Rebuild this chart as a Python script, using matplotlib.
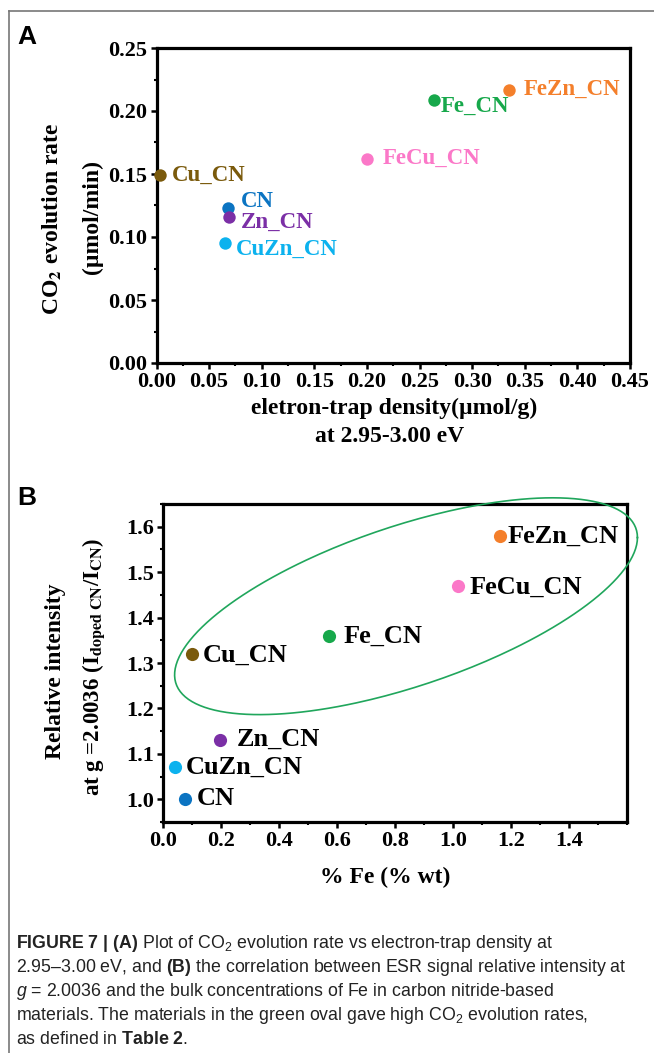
import numpy as np
import matplotlib
matplotlib.use('Agg')
import matplotlib.pyplot as plt
from matplotlib.lines import Line2D
from matplotlib.ticker import MultipleLocator
from matplotlib import font_manager

SAMPLES = ['CN', 'Cu_CN', 'Zn_CN', 'CuZn_CN', 'Fe_CN', 'FeCu_CN', 'FeZn_CN']
COLORS = ['#0b74c2', '#7a5a0c', '#7b2fa6', '#0cb2ee', '#17a84b', '#fb78c8', '#f47f2b']

# panel A: CO2 evolution rate vs electron-trap density
trap_density = [0.068, 0.003, 0.069, 0.065, 0.264, 0.200, 0.335]
co2_rate = [0.123, 0.149, 0.116, 0.095, 0.209, 0.162, 0.217]

# panel B: relative ESR intensity vs Fe content
fe_wt = [0.076, 0.100, 0.197, 0.043, 0.572, 1.017, 1.162]
rel_intensity = [1.00, 1.32, 1.13, 1.07, 1.36, 1.47, 1.58]

# label offsets in pixels (dx, dy)
OFFS_A = {'CN': (13, 7), 'Cu_CN': (12, 0), 'Zn_CN': (12, -6), 'CuZn_CN': (11, -6),
          'Fe_CN': (6, -7), 'FeCu_CN': (16, 1), 'FeZn_CN': (15, 0)}
OFFS_B = {'CN': (12, 1), 'Cu_CN': (11, -1), 'Zn_CN': (17, 1), 'CuZn_CN': (10, 0),
          'Fe_CN': (15, -1), 'FeCu_CN': (12, -2), 'FeZn_CN': (8, 0)}

names = {f.name for f in font_manager.fontManager.ttflist}
CAP_FONT = 'Liberation Sans Narrow' if 'Liberation Sans Narrow' in names else 'Liberation Sans'

plt.rcParams['font.family'] = ['Liberation Serif', 'DejaVu Serif']
plt.rcParams['mathtext.fontset'] = 'custom'
plt.rcParams['mathtext.rm'] = CAP_FONT + ':weight=normal'
plt.rcParams['mathtext.bf'] = CAP_FONT + ':weight=bold'
plt.rcParams['mathtext.it'] = CAP_FONT + ':style=italic:weight=normal'

W, H = 654, 1053
fig = plt.figure(figsize=(W / 100, H / 100), dpi=100)


def fx(px):
    return px / W


def fy(py):
    return 1 - py / H


def style_axes(ax):
    for s in ax.spines.values():
        s.set_linewidth(2.3)
    ax.tick_params(which='major', direction='out', length=4, width=1.8, labelsize=16, pad=2.5,
                   top=False, right=False)
    ax.tick_params(which='minor', direction='out', length=2.5, width=1.5, top=False, right=False)
    for lab in ax.get_xticklabels() + ax.get_yticklabels():
        lab.set_fontweight('bold')


# ---- panel A
axA = fig.add_axes([fx(156.5), fy(363), fx(630) - fx(156.5), fy(48) - fy(363)])
axA.set_xlim(0, 0.45)
axA.set_ylim(0, 0.25)
axA.xaxis.set_major_locator(MultipleLocator(0.05))
axA.xaxis.set_minor_locator(MultipleLocator(0.025))
axA.yaxis.set_major_locator(MultipleLocator(0.05))
axA.yaxis.set_minor_locator(MultipleLocator(0.025))
axA.xaxis.set_major_formatter(lambda v, p: '%.2f' % v)
axA.yaxis.set_major_formatter(lambda v, p: '%.2f' % v)
style_axes(axA)
for name, x, y, c in zip(SAMPLES, trap_density, co2_rate, COLORS):
    axA.scatter(x, y, s=80, color=c, zorder=3, clip_on=False, linewidths=0)
    axA.annotate(name, (x, y), xytext=OFFS_A[name], textcoords='offset pixels',
                 ha='left', va='center', color=c, fontsize=16.5, fontweight='bold')

# ---- panel B
axB = fig.add_axes([fx(163), fy(822), fx(627) - fx(163), fy(504) - fy(822)])
axB.set_xlim(0, 1.6)
axB.set_ylim(0.95, 1.65)
axB.set_xticks(np.arange(0, 1.41, 0.2))
axB.xaxis.set_minor_locator(MultipleLocator(0.1))
axB.yaxis.set_major_locator(MultipleLocator(0.1))
axB.yaxis.set_minor_locator(MultipleLocator(0.05))
axB.xaxis.set_major_formatter(lambda v, p: '%.1f' % v)
axB.yaxis.set_major_formatter(lambda v, p: '%.1f' % v)
style_axes(axB)
for name, x, y, c in zip(SAMPLES, fe_wt, rel_intensity, COLORS):
    axB.scatter(x, y, s=90, color=c, zorder=3, clip_on=False, linewidths=0)
    axB.annotate(name, (x, y), xytext=OFFS_B[name], textcoords='offset pixels',
                 ha='left', va='center', color='black', fontsize=19, fontweight='bold')

# green oval around the high-rate materials
t = np.linspace(0, 2 * np.pi, 300)
phi = np.radians(39.3)
axB.plot(0.838 + 0.798 * np.cos(t), 1.425 + 0.2386 * np.sin(t + phi),
         color='#20a65c', lw=1.2, clip_on=False, zorder=4)

# ---- axis labels
lab = dict(fontsize=17, fontweight='bold', ha='center', va='center', math_fontfamily='stix')
fig.text(fx(52), fy(219), r'CO$_\mathbf{2}$ evolution rate', rotation=90, **lab)
fig.text(fx(92), fy(217), '(µmol/min)', rotation=90, **lab)
fig.text(fx(394), fy(408), 'eletron-trap density(µmol/g)', **lab)
fig.text(fx(390), fy(437), 'at 2.95-3.00 eV', **lab)
fig.text(fx(56), fy(671), 'Relative intensity', rotation=90, **lab)
fig.text(fx(94), fy(667), r'at g =2.0036 (I$_\mathbf{doped\ CN}$/I$_\mathbf{CN}$)', rotation=90,
         **{**lab, 'fontsize': 16.5})
fig.text(fx(385), fy(877), '% Fe (% wt)', **lab)

# ---- panel letters
fig.text(fx(17), fy(37), 'A', family='Liberation Sans', fontsize=19, fontweight='bold', va='center')
fig.text(fx(17), fy(498), 'B', family='Liberation Sans', fontsize=19, fontweight='bold', va='center')

# ---- frame
fig.add_artist(Line2D([fx(9), fx(9)], [fy(11), 0], color='#777777', lw=1.2))
fig.add_artist(Line2D([fx(9), 1], [fy(11), fy(11)], color='#777777', lw=1.2))

# ---- caption
caption = [
    r'$\mathbf{FIGURE\ 7\ |\ (A)}$ Plot of CO$_2$ evolution rate vs electron-trap density at',
    r'2.95–3.00 eV, and $\mathbf{(B)}$ the correlation between ESR signal relative intensity at',
    r'$g$ = 2.0036 and the bulk concentrations of Fe in carbon nitride-based',
    r'materials. The materials in the green oval gave high CO$_2$ evolution rates,',
    r'as defined in $\mathbf{Table\ 2}$.',
]
for i, line in enumerate(caption):
    fig.text(fx(16), fy(943 + 24 * i), line, family=CAP_FONT, fontweight='normal',
             fontsize=12.8, color='#222222', ha='left', va='center')

fig.savefig('out.png', dpi=100)
